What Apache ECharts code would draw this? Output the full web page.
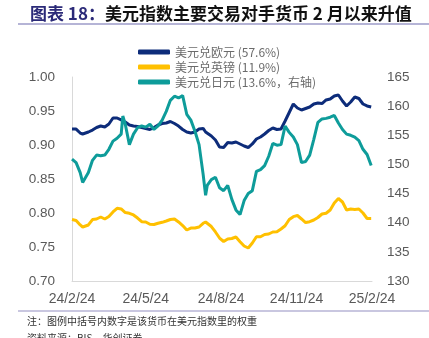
<!DOCTYPE html>
<html>
<head>
<meta charset="utf-8">
<script src="https://cdn.jsdelivr.net/npm/echarts@6/dist/echarts.min.js"></script>
<style>
html,body{margin:0;padding:0;background:#fff;}
#chart{width:429px;height:338px;}
</style>
</head>
<body>
<div id="chart"></div>
<script>
// ---- data ----
const dates = [
 '2024-02-24','2024-02-29','2024-03-05','2024-03-08','2024-03-10','2024-03-15','2024-03-20','2024-03-25','2024-03-30',
 '2024-04-04','2024-04-09','2024-04-14','2024-04-19','2024-04-24','2024-04-26','2024-04-29','2024-05-04','2024-05-09',
 '2024-05-14','2024-05-19','2024-05-24','2024-05-29','2024-06-03','2024-06-08','2024-06-13','2024-06-18','2024-06-23',
 '2024-06-28','2024-07-03','2024-07-08','2024-07-13','2024-07-18','2024-07-23','2024-07-28','2024-08-02','2024-08-05',
 '2024-08-07','2024-08-12','2024-08-17','2024-08-22','2024-08-27','2024-09-01','2024-09-06','2024-09-11','2024-09-16',
 '2024-09-21','2024-09-26','2024-10-01','2024-10-06','2024-10-11','2024-10-16','2024-10-21','2024-10-26','2024-10-31',
 '2024-11-05','2024-11-10','2024-11-15','2024-11-20','2024-11-25','2024-11-30','2024-12-05','2024-12-10','2024-12-15',
 '2024-12-20','2024-12-25','2024-12-30','2025-01-04','2025-01-09','2025-01-14','2025-01-19','2025-01-24','2025-01-29',
 '2025-02-03','2025-02-08','2025-02-13','2025-02-18','2025-02-23'
];
const usdEur = [
 .9235,.9234,.9176,.9162,.9147,.9191,.9220,.9257,.9279,
 .9265,.9309,.9397,.9397,.9368,.9353,.9338,.9294,.9279,
 .9272,.9257,.9243,.9228,.9257,.9294,.9316,.9324,.9346,
 .9316,.9279,.9228,.9191,.9176,.9191,.9235,.9243,.9191,
 .9191,.9132,.9074,.8971,.8963,.9037,.9029,.9044,.9015,
 .8985,.8963,.9015,.9088,.9118,.9162,.9213,.9250,.9228,
 .9235,.9353,.9478,.9603,.9544,.9515,.9537,.9559,.9603,
 .9618,.9610,.9662,.9676,.9721,.9735,.9647,.9574,.9632,
 .9706,.9684,.9603,.9574,.9559
];
const usdGbp = [
 .7904,.7890,.7824,.7794,.7779,.7824,.7904,.7912,.7941,
 .7912,.7949,.8015,.8069,.8059,.8037,.8007,.7996,.7971,
 .7926,.7872,.7868,.7834,.7831,.7849,.7863,.7882,.7904,
 .7912,.7868,.7816,.7750,.7779,.7779,.7794,.7849,.7868,
 .7875,.7801,.7721,.7632,.7581,.7618,.7625,.7647,.7578,
 .7515,.7485,.7559,.7651,.7651,.7684,.7691,.7721,.7725,
 .7765,.7813,.7904,.7946,.7963,.7912,.7860,.7872,.7897,
 .7934,.7985,.7996,.8044,.8147,.8213,.8162,.8044,.8059,
 .8051,.8059,.8000,.7919,.7919
];
const usdJpy = [
 150.9,150.3,148.6,146.9,147.1,148.6,150.7,151.6,151.5,
 151.6,152.6,154.0,154.5,155.2,158.3,156.9,153.4,155.2,
 156.3,156.6,156.4,156.9,156.0,156.6,157.6,159.1,161.0,
 161.7,161.4,161.8,158.6,157.6,155.7,153.4,148.3,144.7,
 146.4,147.4,147.8,146.0,145.5,146.4,144.0,142.2,141.4,
 143.8,145.0,145.5,148.8,149.1,149.8,151.4,153.6,153.3,
 153.4,156.6,155.5,154.7,153.4,150.3,150.5,151.6,154.3,
 157.2,157.8,157.9,158.1,158.4,157.1,156.0,155.2,155.0,
 154.7,154.1,152.6,151.7,149.8
];
const seriesNames = ['美元兑欧元 (57.6%)','美元兑英镑 (11.9%)','美元兑日元 (13.6%，右轴)'];
const tickDates = ['2024-02-24','2024-05-24','2024-08-24','2024-11-24','2025-02-24'];
const tickLabels = ['24/2/24','24/5/24','24/8/24','24/11/24','25/2/24'];
const titleHead = '图表 18：';
const titleBody = '美元指数主要交易对手货币 2 月以来升值';
const noteText = '注：图例中括号内数字是该货币在美元指数里的权重';
const sourceText = '资料来源：BIS，华创证券';

// ---- build ----
const DAY = 86400000;
const t0 = Date.parse(tickDates[0] + 'T00:00:00Z');
const dayOf = d => Math.round((Date.parse(d + 'T00:00:00Z') - t0) / DAY);
const xs = dates.map(dayOf);
const tickDays = tickDates.map(dayOf);
const pairs = arr => arr.map((v, i) => [xs[i], v]);

const chart = echarts.init(document.getElementById('chart'), null, {renderer: 'canvas'});
const numFont = '"Liberation Sans", Arial, sans-serif';
const cjkFont = '"Noto Sans CJK SC", "Liberation Sans", sans-serif';
const colors = ['#0D2C7A', '#FFC000', '#0E9C9A'];

chart.setOption({
  animation: false,
  color: colors,
  title: {
    left: 25, top: 0,
    text: '{a|' + titleHead + '}{b|' + titleBody + '}',
    textStyle: {
      rich: {
        a: {fontFamily: cjkFont, fontSize: 17, fontWeight: 'bold', color: '#2B2A78'},
        b: {fontFamily: cjkFont, fontSize: 17, fontWeight: 'bold', color: '#111'}
      }
    }
  },
  graphic: [
    {type: 'line', shape: {x1: 18, y1: 24, x2: 429, y2: 24}, style: {stroke: '#9D9BC9', lineWidth: 1.5}},
    {type: 'line', shape: {x1: 18, y1: 311, x2: 429, y2: 311}, style: {stroke: '#B7B5D6', lineWidth: 1.5}},
    {type: 'text', left: 27, top: 316, style: {text: noteText, fontFamily: cjkFont, fontSize: 10, fill: '#333'}},
    {type: 'text', left: 27, top: 333, style: {text: sourceText, fontFamily: cjkFont, fontSize: 10, fill: '#333'}}
  ],
  legend: {
    orient: 'vertical',
    left: 133, top: 41,
    itemWidth: 32, itemHeight: 5, itemGap: 3,
    icon: 'roundRect',
    data: seriesNames,
    textStyle: {fontFamily: cjkFont, fontSize: 12, color: '#6b6b6b', padding: [0, 0, 0, 0]}
  },
  grid: {left: 72, right: 57, top: 77, bottom: 57, containLabel: false},
  xAxis: {
    type: 'value', min: 0, max: tickDays[tickDays.length - 1],
    axisLine: {show: true, lineStyle: {color: '#D9D9D9', width: 1}},
    axisTick: {show: false},
    splitLine: {show: false},
    axisLabel: {
      customValues: tickDays,
      margin: 11,
      fontFamily: numFont, fontSize: 14, color: '#595959',
      formatter: v => tickLabels[tickDays.indexOf(Math.round(v))] || ''
    }
  },
  yAxis: [
    {
      type: 'value', min: 0.70, max: 1.00, interval: 0.05, position: 'left',
      axisLine: {show: true, lineStyle: {color: '#D9D9D9', width: 1}},
      axisTick: {show: false}, splitLine: {show: false},
      axisLabel: {margin: 17, fontFamily: numFont, fontSize: 13.5, color: '#595959', formatter: v => v.toFixed(2)}
    },
    {
      type: 'value', min: 130, max: 165, interval: 5, position: 'right',
      axisLine: {show: false}, axisTick: {show: false}, splitLine: {show: false},
      axisLabel: {margin: 15, fontFamily: numFont, fontSize: 13.5, color: '#595959'}
    }
  ],
  series: [
    {name: seriesNames[0], type: 'line', yAxisIndex: 0, data: pairs(usdEur), showSymbol: false, lineStyle: {width: 3, color: colors[0]}},
    {name: seriesNames[1], type: 'line', yAxisIndex: 0, data: pairs(usdGbp), showSymbol: false, lineStyle: {width: 3, color: colors[1]}},
    {name: seriesNames[2], type: 'line', yAxisIndex: 1, data: pairs(usdJpy), showSymbol: false, lineStyle: {width: 3, color: colors[2]}}
  ]
});
</script>
</body>
</html>
